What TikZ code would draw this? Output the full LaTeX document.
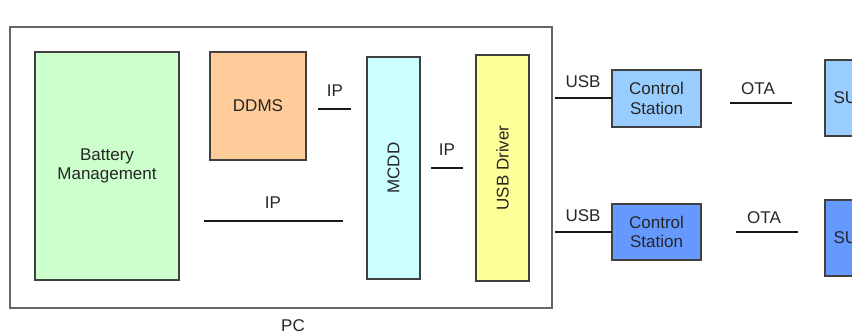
\documentclass[tikz,border=0pt]{standalone}
\usepackage{fontspec}
\setmainfont{Liberation Sans}
\definecolor{bmgreen}{HTML}{CCFFCC}
\definecolor{ddorange}{HTML}{FFCC99}
\definecolor{mccyan}{HTML}{CCFFFF}
\definecolor{usbyellow}{HTML}{FFFF99}
\definecolor{lightblue}{HTML}{99CCFF}
\definecolor{midblue}{HTML}{6699FF}
\definecolor{edge}{HTML}{404040}
\begin{document}
\begin{tikzpicture}[x=1pt,y=-1pt,
  box/.style={draw=edge,line width=1.1pt,inner sep=0pt},
  lbl/.style={font=\fontsize{17}{19.5}\selectfont,text=black!85,align=center},
  wire/.style={line width=2.3pt,black!90}]
\useasboundingbox (0,0) rectangle (852,335);
\clip (0,0) rectangle (852,335);
% PC frame
\draw[draw=black!60,line width=1.2pt] (10,27) rectangle (552,308);
\node[lbl] (pc) at (293,326) {PC};
% boxes
\draw[box,fill=bmgreen] (35,52) rectangle (179,280);
\node[lbl] (bm) at (107,166) {Battery\\Management};
\draw[box,fill=ddorange] (210,52) rectangle (306,160);
\node[lbl] (ddms) at (258,106) {DDMS};
\draw[box,fill=mccyan] (367,57) rectangle (420,279);
\node[lbl,rotate=90] (mcdd) at (393.5,168) {MCDD};
\draw[box,fill=usbyellow] (476,55) rectangle (529,281);
\node[lbl,rotate=90] (usbd) at (502.5,168) {USB Driver};
\draw[box,fill=lightblue] (612,70) rectangle (701,127);
\node[lbl] (cs1) at (656.5,98.5) {Control\\Station};
\draw[box,fill=midblue] (612,204) rectangle (701,260);
\node[lbl] (cs2) at (656.5,232) {Control\\Station};
\draw[box,fill=lightblue] (825,60) rectangle (880,136);
\node[lbl,anchor=west] (su1) at (830,98) {SU};
\draw[box,fill=midblue] (825,200) rectangle (880,276);
\node[lbl,anchor=west] (su2) at (830,238) {SU};
% wires
\coordinate (ip1a) at (318,109); \coordinate (ip1b) at (351,109);
\draw[wire] (ip1a) -- (ip1b);
\node[lbl] (ip1) at (335,91) {IP};
\coordinate (ip2a) at (204,221); \coordinate (ip2b) at (343,221);
\draw[wire] (ip2a) -- (ip2b);
\node[lbl] (ip2) at (273,203) {IP};
\coordinate (ip3a) at (431,168); \coordinate (ip3b) at (463,168);
\draw[wire] (ip3a) -- (ip3b);
\node[lbl] (ip3) at (447,150) {IP};
\coordinate (usb1a) at (555,98); \coordinate (usb1b) at (612,98);
\draw[wire] (usb1a) -- (usb1b);
\node[lbl] (usb1) at (583,82) {USB};
\coordinate (usb2a) at (555,232); \coordinate (usb2b) at (612,232);
\draw[wire] (usb2a) -- (usb2b);
\node[lbl] (usb2) at (583,216) {USB};
\coordinate (ota1a) at (730,103); \coordinate (ota1b) at (792,103);
\draw[wire] (ota1a) -- (ota1b);
\node[lbl] (ota1) at (758,89) {OTA};
\coordinate (ota2a) at (736,232); \coordinate (ota2b) at (798,232);
\draw[wire] (ota2a) -- (ota2b);
\node[lbl] (ota2) at (764,218) {OTA};
\end{tikzpicture}
\end{document}
